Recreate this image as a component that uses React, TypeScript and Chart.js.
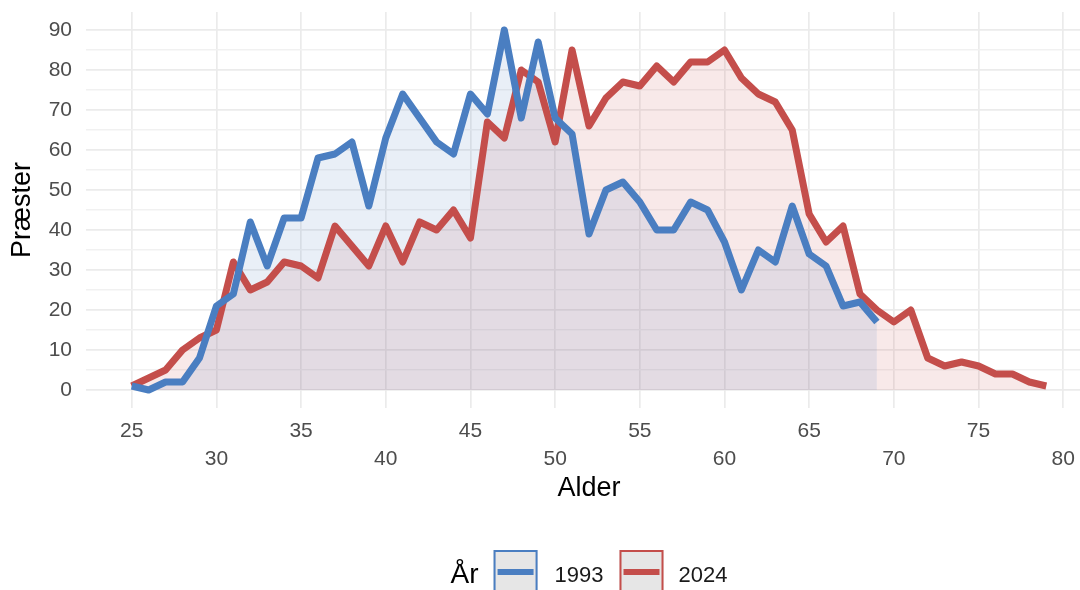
import React, { useEffect, useRef } from "react";
import { Chart, registerables } from "chart.js";

Chart.register(...registerables);

// ---- data ----
const ages1993 = [25, 26, 27, 28, 29, 30, 31, 32, 33, 34, 35, 36, 37, 38, 39, 40, 41, 42, 43, 44, 45, 46, 47, 48, 49, 50, 51, 52, 53, 54, 55, 56, 57, 58, 59, 60, 61, 62, 63, 64, 65, 66, 67, 68, 69];
const values1993 = [1, 0, 2, 2, 8, 21, 24, 42, 31, 43, 43, 58, 59, 62, 46, 63, 74, 68, 62, 59, 74, 69, 90, 68, 87, 68, 64, 39, 50, 52, 47, 40, 40, 47, 45, 37, 25, 35, 32, 46, 34, 31, 21, 22, 17];
const ages2024 = [25, 26, 27, 28, 29, 30, 31, 32, 33, 34, 35, 36, 37, 38, 39, 40, 41, 42, 43, 44, 45, 46, 47, 48, 49, 50, 51, 52, 53, 54, 55, 56, 57, 58, 59, 60, 61, 62, 63, 64, 65, 66, 67, 68, 69, 70, 71, 72, 73, 74, 75, 76, 77, 78, 79];
const values2024 = [1, 3, 5, 10, 13, 15, 32, 25, 27, 32, 31, 28, 41, 36, 31, 41, 32, 42, 40, 45, 38, 67, 63, 80, 77, 62, 85, 66, 73, 77, 76, 81, 77, 82, 82, 85, 78, 74, 72, 65, 44, 37, 41, 24, 20, 17, 20, 8, 6, 7, 6, 4, 4, 2, 1];
const seriesLabels = ["1993", "2024"];
const xTicks = [25, 30, 35, 40, 45, 50, 55, 60, 65, 70, 75, 80];
const yTicks = [0, 10, 20, 30, 40, 50, 60, 70, 80, 90];
const yMinorTicks = [5, 15, 25, 35, 45, 55, 65, 75, 85];
const xTitle = "Alder";
const yTitle = "Præster";
const legendTitle = "År";

// ---- styles ----
const FONT = '"Liberation Sans", Arial, Helvetica, sans-serif';
const BLUE = "#4A7EC1";
const RED = "#C44E4B";
const BLUE_FILL = "rgba(74,126,193,0.12)";
const RED_FILL = "rgba(196,78,75,0.12)";
const colors = [BLUE, RED];

const legendPlugin = {
  id: "customLegend",
  afterDraw(chart: any) {
    const ctx = chart.ctx as CanvasRenderingContext2D;
    const { left, right } = chart.chartArea;
    const cx = (left + right) / 2;
    ctx.save();
    ctx.font = `28px ${FONT}`;
    const wTitle = ctx.measureText(legendTitle).width;
    ctx.font = `22px ${FONT}`;
    const wLabels = seriesLabels.map((l) => ctx.measureText(l).width);
    const box = 44;
    const total = wTitle + 15 + box + 17 + wLabels[0] + 16 + box + 15 + wLabels[1];
    let x = cx - total / 2;
    const yMid = 572;
    ctx.fillStyle = "#000";
    ctx.textBaseline = "alphabetic";
    ctx.textAlign = "left";
    ctx.font = `28px ${FONT}`;
    ctx.fillText(legendTitle, x, 583);
    x += wTitle + 15;
    seriesLabels.forEach((lab, i) => {
      ctx.fillStyle = "#e6e6e6";
      ctx.fillRect(x, yMid - box / 2, box, box);
      ctx.strokeStyle = colors[i];
      ctx.lineWidth = 2;
      ctx.strokeRect(x + 1, yMid - box / 2 + 1, box - 2, box - 2);
      ctx.fillStyle = colors[i];
      ctx.fillRect(x + 4, yMid - 3, box - 8, 6);
      x += box + (i === 0 ? 17 : 15);
      ctx.fillStyle = "#1a1a1a";
      ctx.font = `22px ${FONT}`;
      ctx.fillText(lab, x, 582);
      x += wLabels[i] + 16;
    });
    ctx.restore();
  },
};

export default function App() {
  const ref = useRef<HTMLCanvasElement>(null);
  useEffect(() => {
    const canvas = ref.current!;
    const chart = new Chart(canvas, {
      type: "line",
      data: {
        datasets: [
          {
            label: seriesLabels[0],
            data: ages1993.map((a, i) => ({ x: a, y: values1993[i] })),
            borderColor: BLUE,
            backgroundColor: BLUE_FILL,
            fill: "origin",
            borderWidth: 7,
            pointRadius: 0,
            tension: 0,
            borderJoinStyle: "round",
          },
          {
            label: seriesLabels[1],
            data: ages2024.map((a, i) => ({ x: a, y: values2024[i] })),
            borderColor: RED,
            backgroundColor: RED_FILL,
            fill: "origin",
            borderWidth: 7,
            pointRadius: 0,
            tension: 0,
            borderJoinStyle: "round",
          },
        ],
      },
      options: {
        responsive: false,
        animation: false,
        events: [],
        layout: { padding: { top: 12, left: 0, right: 0, bottom: 0 } },
        plugins: {
          legend: { display: false },
          tooltip: { enabled: false },
          filler: { drawTime: "beforeDatasetsDraw" },
        } as any,
        scales: {
          x: {
            type: "linear",
            min: 22.3,
            max: 81.7,
            afterBuildTicks: (s: any) => {
              s.ticks = xTicks.map((v) => ({ value: v }));
            },
            afterFit: (s: any) => {
              s.height = 182;
              s.paddingLeft = 0;
              s.paddingRight = 0;
            },
            grid: { color: "#ebebeb", lineWidth: 1.7, drawTicks: false },
            border: { display: false },
            ticks: {
              autoSkip: false,
              maxRotation: 0,
              minRotation: 0,
              padding: 9,
              color: "#4d4d4d",
              font: { family: FONT, size: 21, lineHeight: 1.333 },
              callback: (v: any, i: number) => (i % 2 === 0 ? [String(v), ""] : ["", String(v)]),
            },
            title: {
              display: true,
              text: xTitle,
              color: "#000",
              font: { family: FONT, size: 27 },
              padding: { top: 0, bottom: 85 },
            },
          },
          y: {
            type: "linear",
            min: -4.5,
            max: 94.5,
            afterBuildTicks: (s: any) => {
              s.ticks = [...yTicks, ...yMinorTicks].sort((a, b) => a - b).map((v) => ({ value: v }));
            },
            afterFit: (s: any) => {
              s.width = 86;
              s.paddingTop = 0;
              s.paddingBottom = 0;
            },
            grid: {
              color: (c: any) => (yTicks.includes(c.tick?.value) ? "#ebebeb" : "#f1f1f1"),
              lineWidth: (c: any) => (yTicks.includes(c.tick?.value) ? 1.8 : 1.4),
              drawTicks: false,
            },
            border: { display: false },
            ticks: {
              autoSkip: false,
              padding: 14,
              color: "#4d4d4d",
              font: { family: FONT, size: 21 },
              callback: (v: any) => (yTicks.includes(v) ? String(v) : ""),
            },
            title: {
              display: true,
              text: yTitle,
              color: "#000",
              font: { family: FONT, size: 27 },
              padding: { top: 6, bottom: 0 },
            },
          },
        },
      } as any,
      plugins: [legendPlugin],
    });
    return () => chart.destroy();
  }, []);
  return (
    <div
      style={{
        position: "fixed",
        left: 0,
        top: 0,
        width: 1080,
        height: 590,
        overflow: "hidden",
        background: "#fff",
      }}
    >
      <canvas ref={ref} width={1092} height={590} style={{ display: "block" }} />
    </div>
  );
}
